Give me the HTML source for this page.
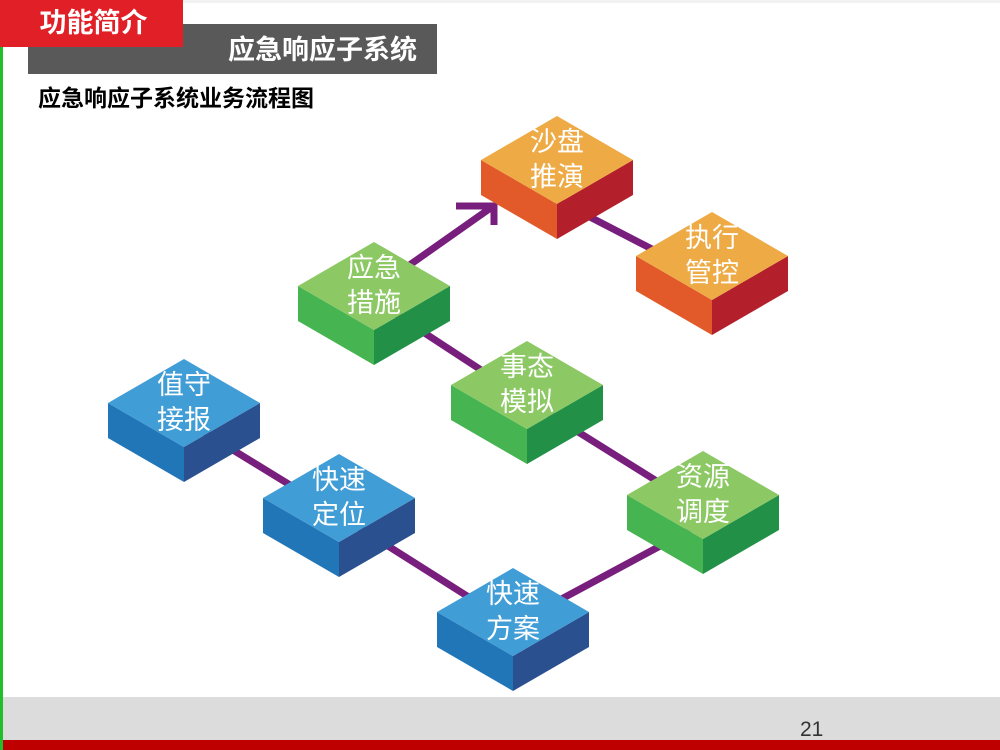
<!DOCTYPE html>
<html><head><meta charset="utf-8"><style>
html,body{margin:0;padding:0;width:1000px;height:750px;overflow:hidden;background:#fff;font-family:"Liberation Sans","Noto Sans CJK SC",sans-serif}
.abs{position:absolute}
</style></head><body>
<div class="abs" style="left:0;top:0;width:1000px;height:3px;background:#f2f2f2"></div>
<div class="abs" style="left:28px;top:24px;width:409px;height:50px;background:#595959"></div>
<div class="abs" style="left:28px;top:24px;width:409px;height:50px;color:#fff;font-weight:bold;font-size:27px;line-height:52px;text-align:right;box-sizing:border-box;padding-right:20px">应急响应子系统</div>
<div class="abs" style="left:0;top:0;width:183px;height:47px;background:#e01f27;color:#fff;font-weight:bold;font-size:27px;line-height:46px;text-align:center;padding-left:4px;box-sizing:border-box">功能简介</div>
<div class="abs" style="left:0;top:47px;width:3px;height:703px;background:#1fbf2a"></div>
<div class="abs" style="left:38px;top:83px;font-weight:bold;font-size:23px;color:#000;line-height:30px">应急响应子系统业务流程图</div>
<div class="abs" style="left:3px;top:697px;width:997px;height:44px;background:#dcdcdc"></div>
<div class="abs" style="left:3px;top:740px;width:997px;height:10px;background:#bf0000"></div>
<div class="abs" style="left:800px;top:717px;font-size:21px;color:#333;line-height:26px">21</div>
<svg class="abs" style="left:0;top:0" width="1000" height="750">
<defs>
<g id="bl"><polygon points="-76,0 0,44 0,79 -76,35" fill="#2176b8"/><polygon points="76,0 0,44 0,79 76,35" fill="#2a5090"/><polygon points="0,-44 76,0 0,44 -76,0" fill="#419dd6"/></g>
<g id="gr"><polygon points="-76,0 0,44 0,79 -76,35" fill="#46b450"/><polygon points="76,0 0,44 0,79 76,35" fill="#229147"/><polygon points="0,-44 76,0 0,44 -76,0" fill="#8cc864"/></g>
<g id="or"><polygon points="-76,0 0,44 0,79 -76,35" fill="#e25a2a"/><polygon points="76,0 0,44 0,79 76,35" fill="#b3202c"/><polygon points="0,-44 76,0 0,44 -76,0" fill="#eeaa44"/></g>
</defs>
<g stroke="#781e7d" stroke-width="7" fill="none">
<line x1="184" y1="420" x2="339" y2="515"/>
<line x1="339" y1="515" x2="513" y2="625"/>
<line x1="513" y1="625" x2="690" y2="530"/>
<line x1="374" y1="300" x2="527" y2="400"/>
<line x1="527" y1="400" x2="703" y2="510"/>
<line x1="374" y1="290" x2="492" y2="207"/>
<line x1="557" y1="200" x2="712" y2="280"/>
<polyline points="456,206 494,206 494,225"/>
</g>
<use href="#or" x="557" y="160"/>
<use href="#or" x="712" y="256"/>
<use href="#gr" x="374" y="286"/>
<use href="#bl" x="184" y="403"/>
<use href="#gr" x="527" y="385"/>
<use href="#bl" x="339" y="498"/>
<use href="#gr" x="703" y="495"/>
<use href="#bl" x="513" y="612"/>
<g fill="#fff" font-size="27" text-anchor="middle" font-family="Liberation Sans,Noto Sans CJK SC,sans-serif">
<text x="557" y="151">沙盘</text><text x="557" y="186">推演</text>
<text x="712" y="247">执行</text><text x="712" y="282">管控</text>
<text x="374" y="277">应急</text><text x="374" y="312">措施</text>
<text x="184" y="394">值守</text><text x="184" y="429">接报</text>
<text x="527" y="376">事态</text><text x="527" y="411">模拟</text>
<text x="339" y="489">快速</text><text x="339" y="524">定位</text>
<text x="703" y="486">资源</text><text x="703" y="521">调度</text>
<text x="513" y="603">快速</text><text x="513" y="638">方案</text>
</g>
</svg>
</body></html>
